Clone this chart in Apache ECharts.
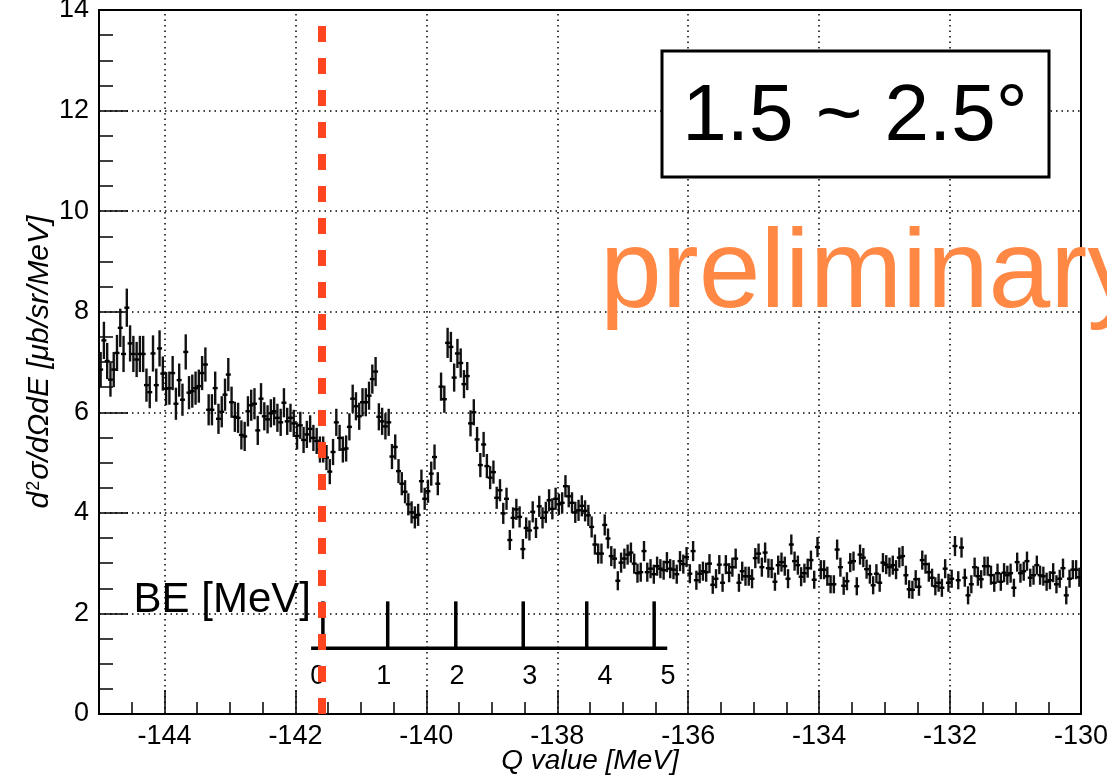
<!DOCTYPE html>
<html><head><meta charset="utf-8">
<script src="https://cdn.jsdelivr.net/npm/echarts@6/dist/echarts.min.js"></script>
<style>html,body{margin:0;padding:0;background:#fff}#c{width:1107px;height:778px}</style>
</head><body><div id="c"></div>
<script>
// ---- histogram binning (Q value, MeV) ----
const binLow = -145;
const binWidth = 0.05;

// ---- cross section per bin [ub/sr/MeV] ----
const yields = [
  6.85,7.43,7.02,6.65,6.85,7.18,7.68,7.16,8.08,7.37,
  7.16,7.05,7.16,7.16,6.54,6.40,7.17,6.54,7.27,6.77,
  6.47,6.48,6.78,6.17,6.64,6.25,7.20,6.39,6.42,6.48,
  6.52,6.78,6.95,6.05,6.05,6.48,5.87,6.01,6.35,6.75,
  6.20,5.91,5.89,5.55,5.52,6.02,6.14,6.17,5.64,6.27,
  5.92,5.86,5.98,6.02,5.89,5.80,6.19,5.82,5.89,5.78,
  5.53,5.74,5.45,5.56,5.67,5.49,5.43,5.26,5.26,5.10,
  4.82,5.21,5.80,5.49,5.26,5.28,5.71,6.27,6.12,5.92,
  6.20,6.20,6.33,6.66,6.81,5.91,5.82,5.72,5.80,5.12,
  5.31,4.83,4.58,4.42,4.17,4.01,3.91,3.96,4.63,4.28,
  4.43,4.78,5.11,4.58,6.51,6.26,7.38,7.30,6.69,7.17,
  6.98,6.56,6.72,5.78,6.00,5.46,4.95,5.36,4.93,4.70,
  4.81,4.30,4.45,3.99,4.28,3.46,3.90,4.07,3.92,3.28,
  3.70,3.65,4.02,3.70,4.13,3.90,4.01,4.25,4.08,4.28,
  4.17,4.20,4.53,4.33,4.20,4.01,4.05,4.14,4.04,3.95,
  3.72,3.37,3.19,3.19,3.76,3.49,3.14,3.09,2.65,3.01,
  3.09,3.17,3.21,2.99,2.80,2.82,3.24,2.82,2.89,2.78,
  2.94,2.89,2.86,3.02,2.89,2.87,2.78,3.04,2.98,3.12,
  2.79,3.24,2.66,2.79,2.84,2.82,2.99,2.57,2.69,2.97,
  2.61,2.97,2.81,2.92,3.09,2.61,2.84,2.74,2.74,2.69,
  3.10,3.19,2.92,3.21,2.90,2.89,2.63,2.96,3.02,2.94,
  2.69,3.37,3.04,2.96,2.73,2.80,2.90,3.06,2.67,3.32,
  2.87,2.87,2.74,2.58,2.58,3.27,2.92,2.55,2.64,3.01,
  3.04,2.54,3.17,3.11,2.88,2.78,2.56,2.79,2.61,3.01,
  2.97,2.92,2.96,2.87,3.11,3.14,2.76,2.48,2.47,2.68,
  2.53,3.06,2.98,2.82,2.71,2.54,2.61,2.51,2.89,2.61,
  2.69,3.34,2.66,3.31,2.71,2.36,2.58,2.92,2.74,2.68,
  2.94,2.94,2.76,2.61,2.80,2.63,2.81,2.76,2.80,2.51,
  3.02,2.80,2.84,3.04,2.71,2.76,2.96,2.76,2.74,2.63,
  2.66,2.81,2.58,2.69,2.90,2.36,2.69,2.87,2.87,2.72
];

// ---- statistical error per bin ----
const errors = [
  .35,.37,.36,.34,.35,.36,.38,.36,.38,.36,
  .36,.35,.36,.36,.33,.32,.36,.33,.36,.34,
  .33,.33,.34,.32,.33,.32,.35,.33,.33,.33,
  .33,.34,.34,.31,.31,.33,.30,.31,.32,.33,
  .31,.30,.30,.29,.29,.30,.31,.31,.29,.31,
  .28,.28,.28,.28,.28,.27,.29,.27,.28,.27,
  .27,.27,.26,.27,.27,.26,.26,.26,.26,.25,
  .25,.26,.27,.26,.26,.26,.27,.28,.28,.27,
  .28,.28,.28,.29,.29,.27,.27,.26,.27,.25,
  .25,.24,.23,.23,.22,.22,.22,.22,.23,.22,
  .23,.24,.25,.23,.28,.27,.30,.30,.28,.29,
  .29,.28,.28,.26,.26,.25,.24,.25,.24,.23,
  .23,.22,.22,.21,.22,.20,.21,.21,.21,.20,
  .21,.20,.21,.20,.21,.21,.21,.22,.21,.22,
  .21,.21,.22,.22,.21,.21,.21,.21,.21,.21,
  .21,.20,.20,.20,.21,.20,.20,.20,.19,.20,
  .20,.20,.20,.20,.19,.19,.20,.19,.19,.19,
  .19,.19,.19,.20,.19,.19,.19,.20,.19,.20,
  .19,.20,.19,.19,.19,.19,.19,.18,.19,.19,
  .18,.19,.19,.19,.20,.18,.19,.19,.19,.19,
  .20,.20,.19,.20,.19,.19,.18,.19,.19,.19,
  .19,.20,.19,.19,.19,.19,.19,.19,.18,.20,
  .19,.19,.19,.18,.18,.20,.19,.18,.18,.19,
  .19,.18,.20,.19,.19,.19,.18,.19,.18,.19,
  .19,.19,.19,.19,.20,.20,.19,.18,.18,.18,
  .18,.19,.19,.19,.18,.18,.18,.18,.19,.18,
  .18,.20,.18,.20,.18,.18,.18,.19,.19,.18,
  .19,.19,.19,.18,.19,.18,.19,.19,.19,.18,
  .19,.19,.19,.19,.18,.19,.19,.19,.19,.18,
  .18,.19,.18,.18,.19,.18,.18,.19,.19,.19
];

// ---- axis ticks ----
const xMajorTicks = [-144,-142,-140,-138,-136,-134,-132,-130];
const xGridLines = [-144,-142,-140,-138,-136,-134,-132];

// ---- binding-energy (BE) overlay axis, in Q-value coordinates ----
const beZeroQ = -141.59;
const beTickQ = [-141.58,-140.59,-139.55,-138.52,-137.55,-136.52];
const beLabelQ = [-141.66,-140.65,-139.53,-138.42,-137.27,-136.31];
const beLabels = ['0','1','2','3','4','5'];
const beLineQ = [-141.76,-136.32];
const beLineY = 1.31;
const beTickTopY = 2.24;
const beLabelY = 0.74;

const FONT = '"Liberation Sans", Arial, Helvetica, sans-serif';
const points = yields.map((v, i) => [binLow + binWidth * (i + 0.5), v, errors[i]]);

const chart = echarts.init(document.getElementById('c'), null, {renderer: 'canvas'});
const dotted = {color: '#000', width: 1.5, type: [1.5, 4]};

const option = {
  animation: false,
  backgroundColor: '#fff',
  textStyle: {fontFamily: FONT},
  grid: {left: 99, top: 10, width: 982, height: 704, show: true,
         outerBoundsMode: 'none', containLabel: false,
         borderColor: '#000', borderWidth: 2, backgroundColor: 'transparent'},
  xAxis: [
    {type: 'value', min: -145, max: -130, interval: 0.5, position: 'bottom',
     axisLine: {show: true, onZero: false, lineStyle: {color: '#000', width: 2}},
     axisTick: {show: true, inside: true, length: 12, lineStyle: {color: '#000', width: 1.5}},
     axisLabel: {show: false}, splitLine: {show: false}},
    {type: 'value', min: -145, max: -130, position: 'bottom',
     axisLine: {show: false, onZero: false},
     axisTick: {show: true, inside: true, length: 24, customValues: xMajorTicks,
                lineStyle: {color: '#000', width: 1.5}},
     axisLabel: {show: true, customValues: xMajorTicks, fontSize: 27, color: '#000',
                 margin: 9, fontFamily: FONT, formatter: v => String(v)},
     splitLine: {show: false},
     name: 'Q value [MeV]', nameLocation: 'middle', nameGap: 33, nameMoveOverlap: false,
     nameTextStyle: {fontSize: 28, fontStyle: 'italic', color: '#000', fontFamily: FONT,
                     verticalAlign: 'top'}}
  ],
  yAxis: {
    type: 'value', min: 0, max: 14, interval: 2,
    axisLine: {show: true, onZero: false, lineStyle: {color: '#000', width: 2}},
    axisTick: {show: true, inside: true, length: 29, lineStyle: {color: '#000', width: 1.5}},
    minorTick: {show: true, splitNumber: 4, length: 14, lineStyle: {color: '#000', width: 1.5}},
    axisLabel: {fontSize: 27, color: '#000', margin: 10, fontFamily: FONT},
    splitLine: {show: true, lineStyle: dotted},
    name: '{i|d}{s|2}{i|σ/dΩdE [μb/sr/MeV]}',
    nameLocation: 'middle', nameGap: 44, nameRotate: 90, nameMoveOverlap: false,
    nameTextStyle: {
      rich: {
        i: {fontSize: 30, fontStyle: 'italic', fontFamily: FONT, color: '#000'},
        s: {fontSize: 18, fontFamily: FONT, color: '#000', verticalAlign: 'top', padding: [0, 1, 10, 1]}
      }
    }
  },
  series: [
    {
      name: 'grid', type: 'line', data: [], z: 1, silent: true,
      markLine: {silent: true, symbol: 'none', label: {show: false}, animation: false,
                 lineStyle: dotted, emphasis: {disabled: true},
                 data: xGridLines.map(v => ({xAxis: v}))}
    },
    {
      name: 'data', type: 'custom', z: 2, data: points,
      encode: {x: 0, y: 1},
      renderItem: function (params, api) {
        const x = api.value(0), y = api.value(1), e = api.value(2);
        const hi = api.coord([x, y + e]);
        const lo = api.coord([x, y - e]);
        const c = api.coord([x, y]);
        return {type: 'group', children: [
          {type: 'line', shape: {x1: hi[0], y1: hi[1], x2: lo[0], y2: lo[1]},
           style: {stroke: '#111', lineWidth: 2.4}},
          {type: 'rect', shape: {x: c[0] - 2.5, y: c[1] - 1.2, width: 5, height: 2.4},
           style: {fill: '#000'}}
        ]};
      }
    },
    {
      name: 'threshold', type: 'line', data: [], z: 3, silent: true,
      markLine: {silent: true, symbol: 'none', label: {show: false}, animation: false,
                 emphasis: {disabled: true},
                 lineStyle: {color: '#ff4520', width: 8, type: [16, 16]},
                 data: [{xAxis: beZeroQ}]}
    },
    {
      name: 'BE axis line', type: 'custom', z: 4, silent: true,
      data: [[beLineQ[0], beLineQ[1]]],
      renderItem: function (params, api) {
        const a = api.coord([api.value(0), beLineY]);
        const b = api.coord([api.value(1), beLineY]);
        return {type: 'line', shape: {x1: a[0], y1: a[1], x2: b[0], y2: b[1]},
                style: {stroke: '#000', lineWidth: 3.5}};
      }
    },
    {
      name: 'BE ticks', type: 'custom', z: 4, silent: true,
      data: beTickQ.map((q, i) => [q, beLabelQ[i], i]),
      renderItem: function (params, api) {
        const q = api.value(0), lq = api.value(1), i = api.value(2);
        const lo = api.coord([q, beLineY]);
        const hi = api.coord([q, beTickTopY]);
        const lp = api.coord([lq, beLabelY]);
        return {type: 'group', children: [
          {type: 'line', shape: {x1: lo[0], y1: lo[1] + 1.5, x2: hi[0], y2: hi[1]},
           style: {stroke: '#000', lineWidth: 3.5}},
          {type: 'text', x: lp[0], y: lp[1],
           style: {text: beLabels[i], fontSize: 27, fontFamily: FONT, fill: '#000',
                   align: 'center', verticalAlign: 'middle'}}
        ]};
      }
    }
  ],
  graphic: [
    {type: 'rect', z: 100, shape: {x: 662, y: 51, width: 387, height: 126},
     style: {fill: '#fff', stroke: '#000', lineWidth: 3}},
    {type: 'text', z: 101, x: 855, y: 118,
     style: {text: '1.5 ~ 2.5°', fontSize: 80, fontFamily: FONT, fill: '#000',
             align: 'center', verticalAlign: 'middle'}},
    {type: 'text', z: 101, x: 600, y: 276,
     style: {text: 'preliminary', fontSize: 111, fontFamily: FONT, fill: '#ff8844',
             align: 'left', verticalAlign: 'middle'}},
    {type: 'text', z: 101, x: 311, y: 600,
     style: {text: 'BE [MeV]', fontSize: 42, fontFamily: FONT, fill: '#000',
             align: 'right', verticalAlign: 'middle'}}
  ]
};
chart.setOption(option);
</script>
</body></html>
